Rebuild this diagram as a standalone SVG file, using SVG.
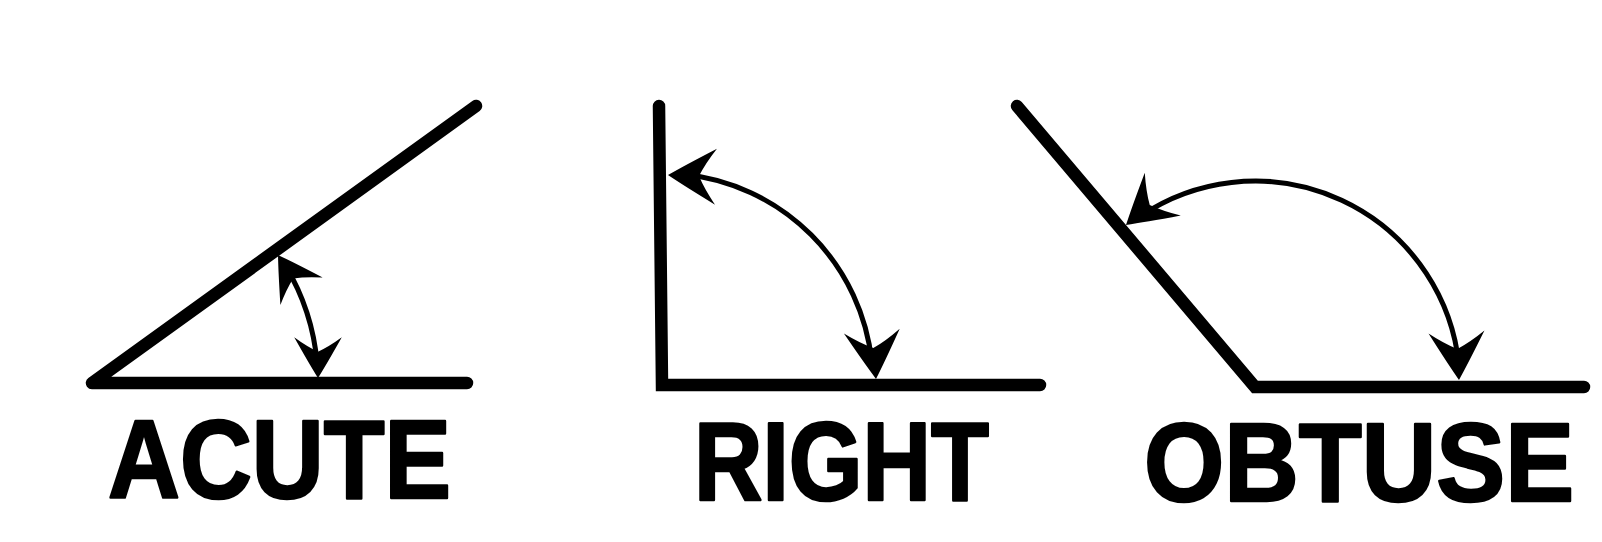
<svg xmlns="http://www.w3.org/2000/svg" xmlns:xlink="http://www.w3.org/1999/xlink" width="1602" height="542" viewBox="0 0 1602 542">
  <style>
    .edge { fill: none; stroke: #000; stroke-width: 12.5; stroke-linecap: round; }
    .arc { fill: none; stroke: #000; stroke-width: 5; stroke-linecap: round; }
    .lbl { font-family: "Liberation Sans", Arial, sans-serif; font-weight: bold; font-size: 104px; fill: #000; stroke: #000; stroke-width: 2.4; stroke-linejoin: round; }
  </style>
  <defs>
    <path id="ah" d="M 0 0 Q -16 -10 -48 -28 Q -37 -13 -31 0 Q -37 13 -48 28 Q -16 10 0 0 Z" fill="#000"/>
  </defs>
  <rect width="1602" height="542" fill="#fff"/>

  <g id="acute">
    <path class="edge" d="M 476 106 L 92 383 L 467 383" stroke-linejoin="round"/>
    <text class="lbl" transform="translate(108 498) scale(1 1.077)" x="0" y="0" textLength="343" lengthAdjust="spacingAndGlyphs">ACUTE</text>
  </g>

  <g id="right">
    <path class="edge" d="M 659 106 L 662 385 L 1040 385" stroke-linejoin="miter"/>
    <text class="lbl" transform="translate(694 500) scale(1 1.077)" x="0" y="0" textLength="295" lengthAdjust="spacingAndGlyphs">RIGHT</text>
  </g>

  <g id="obtuse">
    <path class="edge" d="M 1017 106 L 1255 387 L 1584 387" stroke-linejoin="miter"/>
    <text class="lbl" transform="translate(1144 501) scale(1 1.077)" x="0" y="0" textLength="430" lengthAdjust="spacingAndGlyphs">OBTUSE</text>
  </g>

  <g id="connectors">
    <path class="arc" d="M 317.1 363.1 A 228 228 0 0 0 285.4 265.6"/>
    <use xlink:href="#ah" transform="translate(318 378) rotate(90) scale(0.85)"/>
    <use xlink:href="#ah" transform="translate(278 255) rotate(-123) scale(0.9)"/>

    <path class="arc" d="M 871.8 361.9 A 211 211 0 0 0 684.1 174.2"/>
    <use xlink:href="#ah" transform="translate(876 379) rotate(85)"/>
    <use xlink:href="#ah" transform="translate(668 175) rotate(182)"/>

    <path class="arc" stroke-width="4.5" d="M 1458.9 364.6 A 205 205 0 0 0 1140.4 216.1"/>
    <use xlink:href="#ah" transform="translate(1459 380) rotate(87)"/>
    <use xlink:href="#ah" transform="translate(1126 225) rotate(140)"/>
  </g>
</svg>
